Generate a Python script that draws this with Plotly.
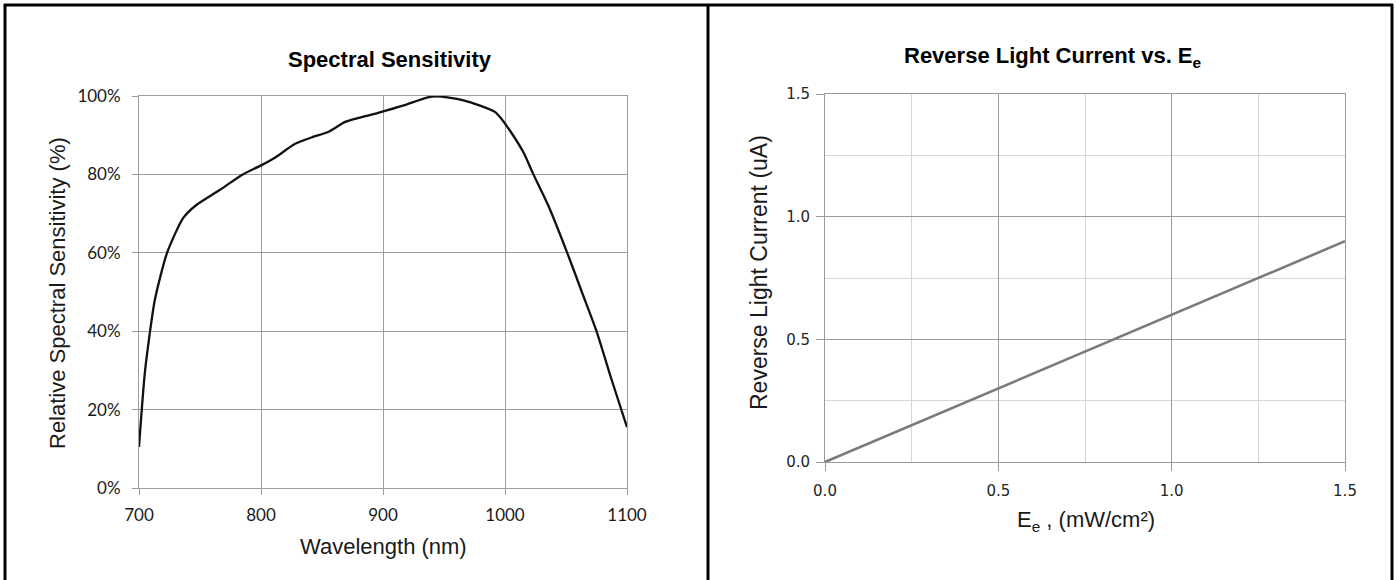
import plotly.graph_objects as go

# ---- data: spectral sensitivity ----
wavelength_nm = [700, 705, 713, 723, 736, 747, 766, 785, 800, 812, 828, 842, 855,
                 869, 880, 896, 917, 936, 944, 954, 966, 979, 992, 997, 1004, 1015,
                 1023, 1036, 1051, 1063, 1075, 1087, 1100]
sensitivity_pct = [10.5, 30.0, 48.0, 60.0, 68.8, 72.2, 76.0, 80.0, 82.3, 84.4, 87.8, 89.5,
                   90.8, 93.4, 94.4, 95.7, 97.6, 99.6, 99.9, 99.6, 98.9, 97.6, 95.9, 94.2,
                   91.2, 85.7, 80.2, 71.7, 60.0, 50.0, 40.0, 28.0, 15.5]

# ---- data: reverse light current vs irradiance ----
irradiance = [0.0, 0.5, 1.0, 1.5]
light_current = [0.0, 0.3, 0.6, 0.9]

left_xticks = [700, 800, 900, 1000, 1100]
left_yticks = [0, 20, 40, 60, 80, 100]
left_yticklabels = ["0%", "20%", "40%", "60%", "80%", "100%"]
right_ticks = [0.0, 0.5, 1.0, 1.5]
right_ticklabels = ["0.0", "0.5", "1.0", "1.5"]

W, H = 1397, 580
def px(x):
    return x / W
def py(y):
    return 1 - y / H

fig = go.Figure()
fig.add_trace(go.Scatter(x=wavelength_nm, y=sensitivity_pct, mode="lines",
                         line=dict(color="#111111", width=2.3, shape="spline", smoothing=0.6),
                         xaxis="x", yaxis="y", showlegend=False))
fig.add_trace(go.Scatter(x=irradiance, y=light_current, mode="lines",
                         line=dict(color="#7a7a7a", width=2.6),
                         xaxis="x2", yaxis="y2", showlegend=False))

grid = "#9d9d9d"
tickfont_l = dict(family="Lato", size=17, color="#1a1a1a")
tickfont_r = dict(family="DejaVu Sans", size=15, color="#262626")

fig.update_layout(
    template="none",
    width=W, height=H, margin=dict(l=0, r=0, t=0, b=0, pad=0, autoexpand=False),
    paper_bgcolor="white", plot_bgcolor="white",
    xaxis=dict(domain=[px(139), px(627)], range=[700, 1100], tickmode="array",
               tickvals=left_xticks, ticktext=[str(v) for v in left_xticks],
               showgrid=True, gridcolor=grid, gridwidth=1, zeroline=False, automargin=False,
               showline=True, linecolor=grid, linewidth=1, mirror=True,
               ticks="outside", ticklen=6, tickcolor=grid, tickfont=tickfont_l,
               ticklabelstandoff=6, anchor="y", fixedrange=True),
    yaxis=dict(domain=[py(488), py(96)], range=[0, 100], tickmode="array",
               tickvals=left_yticks, ticktext=left_yticklabels,
               showgrid=True, gridcolor=grid, gridwidth=1, zeroline=False, automargin=False,
               showline=True, linecolor=grid, linewidth=1, mirror=True,
               ticks="outside", ticklen=6, tickcolor=grid, tickfont=tickfont_l,
               ticklabelstandoff=8, anchor="x", fixedrange=True),
    xaxis2=dict(domain=[px(825), px(1345)], range=[0, 1.5], tickmode="array",
                tickvals=right_ticks, ticktext=right_ticklabels,
                showgrid=True, gridcolor="#9a9a9a", gridwidth=1, zeroline=False, automargin=False,
                minor=dict(dtick=0.25, tick0=0, showgrid=True, gridcolor="#d6d6d6", ticks=""),
                showline=True, linecolor="#9a9a9a", linewidth=1, mirror=True,
                ticks="outside", ticklen=8, tickcolor="#9a9a9a", tickfont=tickfont_r,
                ticklabelstandoff=7, anchor="y2", fixedrange=True),
    yaxis2=dict(domain=[py(462), py(94)], range=[0, 1.5], tickmode="array",
                tickvals=right_ticks, ticktext=right_ticklabels,
                showgrid=True, gridcolor="#9a9a9a", gridwidth=1, zeroline=False, automargin=False,
                minor=dict(dtick=0.25, tick0=0, showgrid=True, gridcolor="#d6d6d6", ticks=""),
                showline=True, linecolor="#9a9a9a", linewidth=1, mirror=True,
                ticks="outside", ticklen=8, tickcolor="#9a9a9a", tickfont=tickfont_r,
                ticklabelstandoff=3, anchor="x2", fixedrange=True),
)

title_font = dict(family="Liberation Sans", size=22, color="black")
axis_font = dict(family="Liberation Sans", size=22, color="#1a1a1a")
axis_font_r = dict(family="Liberation Sans", size=23, color="#1a1a1a")
ann = [
    dict(x=px(390), y=py(59), text="<b>Spectral Sensitivity</b>", font=title_font),
    dict(x=px(1053), y=py(57), text="<b>Reverse Light Current vs. E<sub>e</sub></b>", font=title_font),
    dict(x=px(383), y=py(546), text="Wavelength (nm)", font=axis_font),
    dict(x=px(57), y=py(293), text="Relative Spectral Sensitivity (%)", font=axis_font, textangle=-90),
    dict(x=px(1086), y=py(521), text="E<sub>e</sub> , (mW/cm²)", font=axis_font),
    dict(x=px(759), y=py(273), text="Reverse Light Current (uA)", font=axis_font_r, textangle=-90),
]
for a in ann:
    a.update(xref="paper", yref="paper", showarrow=False, xanchor="center", yanchor="middle")
fig.update_layout(annotations=ann)

border = dict(color="black", width=3)
shapes = [
    dict(type="line", xref="paper", yref="paper", x0=px(5), x1=px(5), y0=py(4), y1=0, line=border),
    dict(type="line", xref="paper", yref="paper", x0=px(4), x1=px(1393), y0=py(5), y1=py(5), line=border),
    dict(type="line", xref="paper", yref="paper", x0=px(1392), x1=px(1392), y0=py(4), y1=0, line=border),
    dict(type="line", xref="paper", yref="paper", x0=px(708), x1=px(708), y0=py(4), y1=0, line=border),
]
fig.update_layout(shapes=shapes)

fig.write_html("out.html", config={"displayModeBar": False, "responsive": False},
               post_script="document.body.style.margin='0';document.body.style.overflow='hidden';")
